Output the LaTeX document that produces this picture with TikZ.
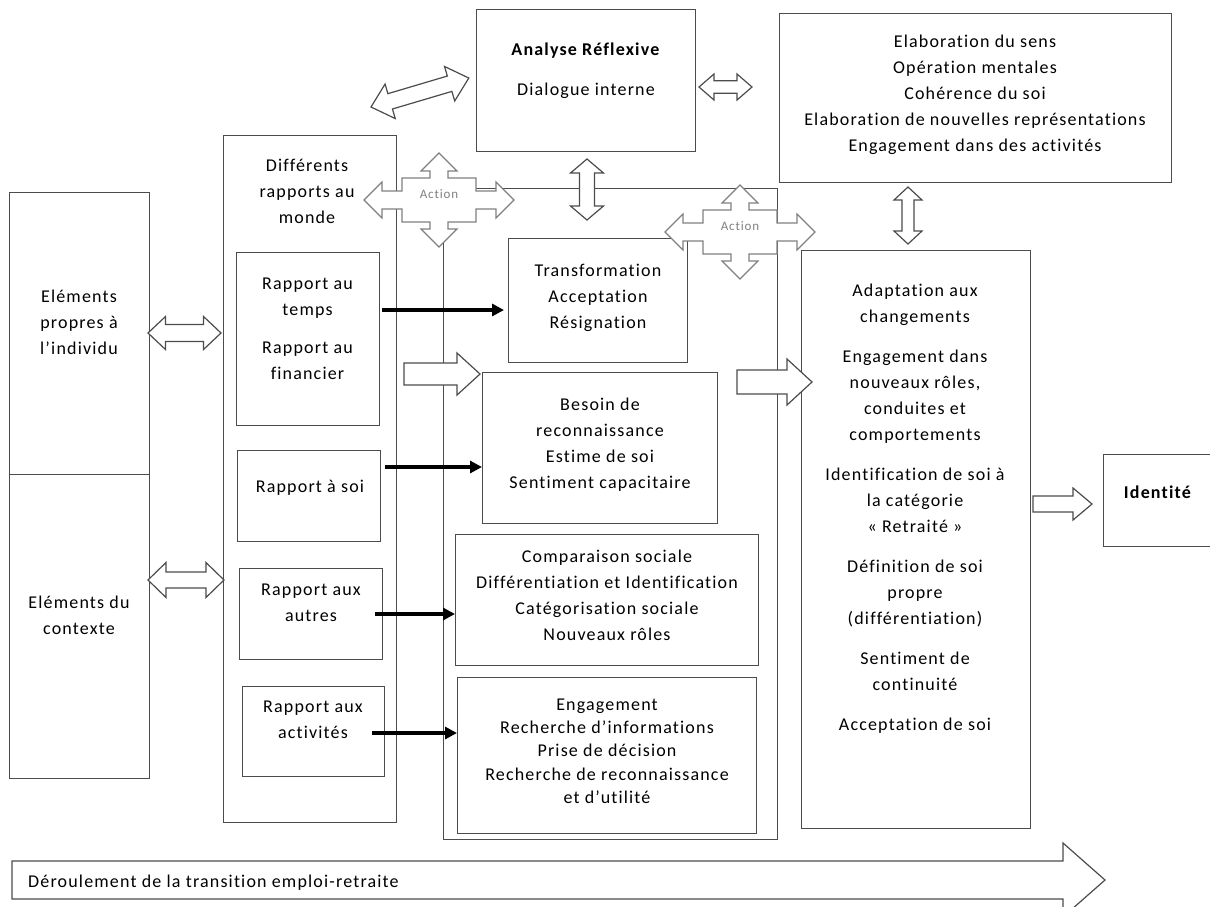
\documentclass[tikz,border=0pt]{standalone}
\usepackage{fontspec}
\setmainfont{Carlito}[LetterSpace=6.5, Ligatures=NoCommon]
\usetikzlibrary{arrows.meta}
\definecolor{boxgray}{gray}{0.3}
\definecolor{arrgray}{gray}{0.3}
\definecolor{crossgray}{gray}{0.5}

% block arrows: x, y, angle, length, shaft half, head half, head length
\newcommand{\dblarrow}[7]{%
  \begin{scope}[shift={(#1,#2)}, rotate=#3]
    \draw[blockarr] (0,0) -- (#7,#6) -- (#7,#5) -- (#4-#7,#5) -- (#4-#7,#6) -- (#4,0)
      -- (#4-#7,-#6) -- (#4-#7,-#5) -- (#7,-#5) -- (#7,-#6) -- cycle;
  \end{scope}}
\newcommand{\onearrow}[7]{%
  \begin{scope}[shift={(#1,#2)}, rotate=#3]
    \draw[blockarr] (0,-#5) -- (#4-#7,-#5) -- (#4-#7,-#6) -- (#4,0) -- (#4-#7,#6)
      -- (#4-#7,#5) -- (0,#5) -- cycle;
  \end{scope}}
% quad arrow callout with its label
\newcommand{\actioncross}[3]{%
  \begin{scope}[shift={(#2,#3)}]
    \draw[crossarr] (-75,0) -- (-57,18) -- (-57,9) -- (-37,9) -- (-37,22) -- (-9,22) -- (-9,29)
      -- (-18,29) -- (0,47) -- (18,29) -- (9,29) -- (9,22) -- (37,22) -- (37,9) -- (57,9)
      -- (57,18) -- (75,0) -- (57,-18) -- (57,-9) -- (37,-9) -- (37,-22) -- (9,-22) -- (9,-29)
      -- (18,-29) -- (0,-47) -- (-18,-29) -- (-9,-29) -- (-9,-22) -- (-37,-22) -- (-37,-9)
      -- (-57,-9) -- (-57,-18) -- cycle;
    \node[actiontext] (#1) at (0,-6) {Action};
  \end{scope}}

\tikzset{
  box/.style={draw=boxgray, line width=1.3pt, rectangle, inner sep=0pt, anchor=north west},
  txt/.style={align=center, inner sep=0pt, font=\fontsize{18}{26}\selectfont,
    execute at begin node=\strut, execute at end node=\strut},
  blockarr/.style={draw=arrgray, line width=1.2pt, fill=white},
  crossarr/.style={draw=crossgray, line width=1.1pt, fill=white},
  actiontext/.style={text=crossgray, inner sep=0pt, font=\fontsize{13}{15}\selectfont},
  conn/.style={line width=3.4pt, -{Triangle[length=12pt,width=12pt]}}
}

\begin{document}
\begin{tikzpicture}[x=1pt, y=-1pt]
    \useasboundingbox (0,0) rectangle (1210,906);

    % boxes
    \node[box, minimum width=219pt, minimum height=142pt] (analyse) at (476,9) {};
    \node[box, minimum width=392pt, minimum height=169pt] (elabo) at (779,13) {};
    \node[box, minimum width=140pt, minimum height=282pt] (propres) at (9,192) {};
    \node[box, minimum width=140pt, minimum height=304pt] (contexte) at (9,474) {};
    \node[box, minimum width=173pt, minimum height=687pt] (rapports) at (223,135) {};
    \node[box, minimum width=143pt, minimum height=173pt] (temps) at (236,252) {};
    \node[box, minimum width=143pt, minimum height=91pt] (soi) at (237,450) {};
    \node[box, minimum width=143pt, minimum height=91pt] (autres) at (239,568) {};
    \node[box, minimum width=142pt, minimum height=90pt] (activites) at (242,686) {};
    \node[box, minimum width=334pt, minimum height=651pt] (milieu) at (443,188) {};
    \node[box, minimum width=179pt, minimum height=124pt] (transfo) at (508,238) {};
    \node[box, minimum width=235pt, minimum height=151pt] (besoin) at (482,372) {};
    \node[box, minimum width=303pt, minimum height=131pt] (comparaison) at (455,534) {};
    \node[box, minimum width=299pt, minimum height=156pt] (engagement) at (457,677) {};
    \node[box, minimum width=229pt, minimum height=578pt] (adaptation) at (801,250) {};
    \node[box, minimum width=115pt, minimum height=92pt] (identite) at (1103,454) {};

    % texts
    \node[txt] (t-analyse) at (586,73) {\textbf{Analyse Réflexive}\\[14pt]Dialogue interne};
    \node[txt] (t-elabo) at (975,97.5) {Elaboration du sens\\Opération mentales\\Cohérence du soi\\Elaboration de nouvelles représentations\\Engagement dans des activités};
    \node[txt] (t-propres) at (79,326) {Eléments\\propres à\\l’individu};
    \node[txt] (t-contexte) at (79,619.5) {Eléments du\\contexte};
    \node[txt] (t-rapports) at (307,195.5) {Différents\\rapports au\\monde};
    \node[txt] (t-temps) at (307.5,332.5) {Rapport au\\temps\\[12pt]Rapport au\\financier};
    \node[txt] (t-soi) at (310,487) {Rapport à soi};
    \node[txt] (t-autres) at (311,606.5) {Rapport aux\\autres};
    \node[txt] (t-activites) at (313,723.5) {Rapport aux\\activités};
    \node[txt] (t-transfo) at (598,300) {Transformation\\Acceptation\\Résignation};
    \node[txt] (t-besoin) at (600,447) {Besoin de\\reconnaissance\\Estime de soi\\Sentiment capacitaire};
    \node[txt] (t-comparaison) at (607,599) {Comparaison sociale\\Différentiation et Identification\\Catégorisation sociale\\Nouveaux rôles};
    \node[txt, font=\fontsize{18}{23.3}\selectfont] (t-engagement) at (607,754.5) {Engagement\\Recherche d’informations\\Prise de décision\\Recherche de reconnaissance\\et d’utilité};
    \node[txt] (t-adaptation) at (915,511) {Adaptation aux\\changements\\[14pt]Engagement dans\\nouveaux rôles,\\conduites et\\comportements\\[14pt]Identification de soi à\\la catégorie\\«~Retraité~»\\[14pt]Définition de soi\\propre\\(différentiation)\\[14pt]Sentiment de\\continuité\\[14pt]Acceptation de soi};
    \node[txt] (t-identite) at (1158,493) {\textbf{Identité}};

    % block arrows
    \dblarrow{371}{107}{16.5}{102}{8}{18}{20}
    \dblarrow{699}{87}{0}{53}{6.3}{13}{15}
    \dblarrow{587}{159}{-90}{61}{7.5}{16.5}{14}
    \dblarrow{908}{187}{-90}{57}{6}{14}{13}
    \dblarrow{148}{333}{0}{73}{8.5}{16.5}{17.5}
    \dblarrow{148}{580}{0}{76}{8}{17.5}{18}
    \onearrow{404}{374}{0}{76}{11}{21}{23}
    \onearrow{737}{382}{0}{75}{12}{23}{25}
    \onearrow{1033}{504}{0}{59}{8}{16}{19}
    \onearrow{12}{880}{0}{1093}{19}{37}{42}
    \node[txt, anchor=west] (deroulement) at (28,882) {Déroulement de la transition emploi-retraite};

    % action callouts
    \actioncross{action1}{439}{200}
    \actioncross{action2}{740}{232}

    % links from the rapports
    \coordinate (p1) at (382,310);
    \coordinate (p2) at (385,467);
    \coordinate (p3) at (375,614);
    \coordinate (p4) at (372,733);
    \draw[conn, shorten >=4pt] (p1) -- (p1 -| transfo.west);
    \draw[conn] (p2) -- (p2 -| besoin.west);
    \draw[conn] (p3) -- (p3 -| comparaison.west);
    \draw[conn] (p4) -- (p4 -| engagement.west);
\end{tikzpicture}
\end{document}
